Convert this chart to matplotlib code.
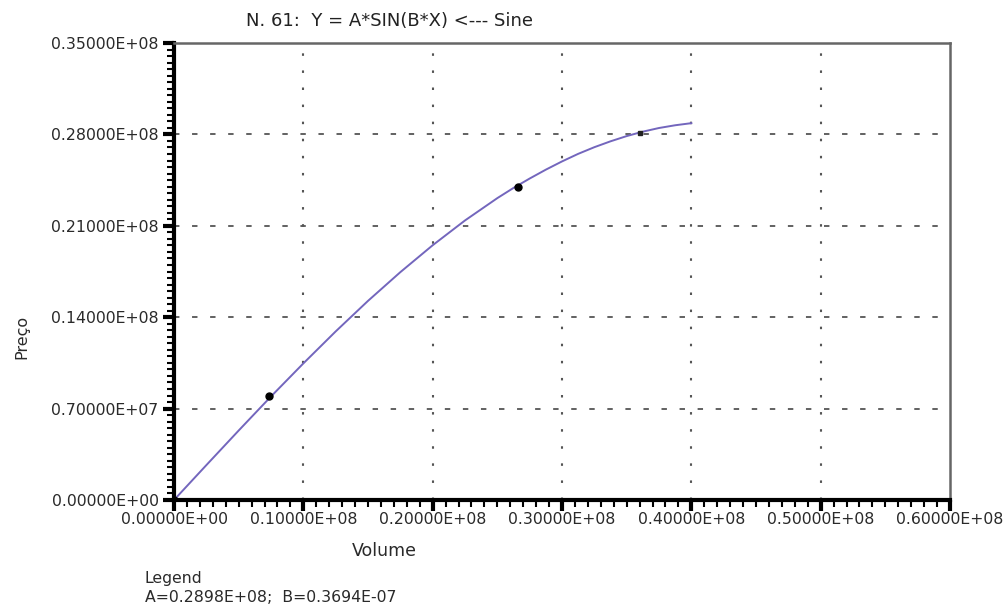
import numpy as np
import matplotlib.pyplot as plt
from matplotlib.ticker import MultipleLocator, FuncFormatter

plt.rcParams['font.family'] = ['DejaVu Sans']

# fitted curve
curve_x = [0.0, 0.25e7, 0.5e7, 0.75e7, 1.0e7, 1.25e7, 1.5e7, 1.75e7, 2.0e7,
           2.25e7, 2.5e7, 2.625e7, 2.75e7, 2.875e7, 3.0e7, 3.125e7, 3.25e7,
           3.375e7, 3.5e7, 3.625e7, 3.75e7, 3.875e7, 4.0e7]
curve_y = [0.0, 0.267e7, 0.532e7, 0.793e7, 1.046e7, 1.291e7, 1.525e7, 1.745e7, 1.951e7,
           2.141e7, 2.312e7, 2.390e7, 2.462e7, 2.530e7, 2.593e7, 2.651e7, 2.702e7,
           2.747e7, 2.787e7, 2.821e7, 2.849e7, 2.870e7, 2.886e7]

# observed points
pts_x = [0.0, 0.735e7, 2.66e7]
pts_y = [0.0, 0.796e7, 2.40e7]
extra_x = [3.6e7]
extra_y = [2.81e7]

title = "N. 61:  Y = A*SIN(B*X) <--- Sine"
legend_lines = ["Legend", "A=0.2898E+08;  B=0.3694E-07"]


def efmt(v, pos=None):
    if v == 0:
        return "0.00000E+00"
    e = int(np.floor(np.log10(abs(v)))) + 1
    m = v / 10 ** e
    return "%.5fE%+03d" % (m, e)


fig = plt.figure(figsize=(10.07, 6.07), dpi=100)
W, H = 1007, 607
ax = fig.add_axes([174 / W, 1 - 500 / H, (950 - 174) / W, (500 - 43) / H])

ax.plot(curve_x, curve_y, color='#7366bd', lw=1.4, zorder=3)
ax.plot(pts_x, pts_y, 'o', color='black', ms=5, zorder=4)
ax.plot(extra_x, extra_y, 's', color='#222222', ms=2.5, zorder=4)

ax.set_xlim(0, 0.6e8)
ax.set_ylim(0, 0.35e8)
ax.xaxis.set_major_locator(MultipleLocator(1e7))
ax.xaxis.set_minor_locator(MultipleLocator(1e6))
ax.yaxis.set_major_locator(MultipleLocator(7e6))
ax.yaxis.set_minor_locator(MultipleLocator(5e5))
ax.xaxis.set_major_formatter(FuncFormatter(efmt))
ax.yaxis.set_major_formatter(FuncFormatter(efmt))

# grid: horizontal dashed, vertical dotted, skip the frame edges
for gy in [0.7e7, 1.4e7, 2.1e7, 2.8e7]:
    ax.axhline(gy, color='#555555', lw=1.3, ls=(0, (3, 7)), zorder=1)
for gx in [1e7, 2e7, 3e7, 4e7, 5e7]:
    ax.axvline(gx, color='#555555', lw=1.5, ls=(0, (1.2, 7)), zorder=1)

for s in ['left', 'bottom']:
    ax.spines[s].set_linewidth(3)
    ax.spines[s].set_color('black')
for s in ['top', 'right']:
    ax.spines[s].set_linewidth(1.8)
    ax.spines[s].set_color('#666666')

ax.tick_params(which='major', direction='out', length=8, width=3, colors='black',
               labelsize=11.3, labelcolor='#2a2a2a')
ax.tick_params(axis='x', which='major', pad=1)
ax.tick_params(axis='y', which='major', pad=3)
ax.tick_params(which='minor', direction='out', length=5, width=1.5, colors='black')

fig.text(389 / W, 1 - 21 / H, title, ha='center', va='center', fontsize=13, color='#222222')
fig.text(22 / W, 1 - 337 / H, "Preço", rotation=90, ha='center', va='center',
         fontsize=11.5, color='#2a2a2a')
fig.text(384 / W, 1 - 551 / H, "Volume", ha='center', va='center', fontsize=12.5,
         color='#2a2a2a')
fig.text(145 / W, 1 - 578 / H, legend_lines[0], ha='left', va='center', fontsize=11.3,
         color='#2a2a2a')
fig.text(145 / W, 1 - 598 / H, legend_lines[1], ha='left', va='center', fontsize=11.3,
         color='#2a2a2a')

fig.savefig('out.png', dpi=100)
